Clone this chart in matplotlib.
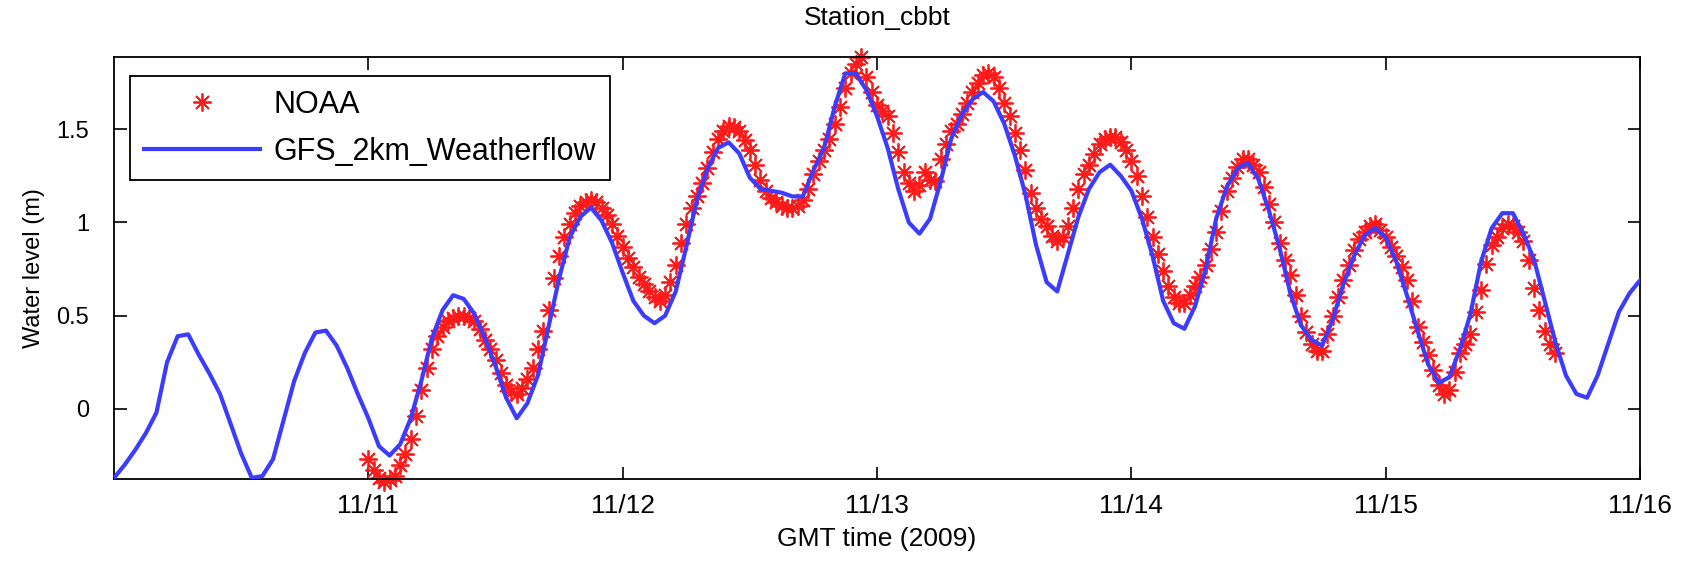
import numpy as np
import matplotlib
matplotlib.use("Agg")
import matplotlib.pyplot as plt

# model (GFS_2km_Weatherflow), hourly from 2009-11-10 00:00
model_start = np.datetime64("2009-11-10T00:00")
model_level = [
    -0.37, -0.30, -0.22, -0.13, -0.02, 0.25, 0.39, 0.40, 0.29, 0.19, 0.08, -0.08,
    -0.24, -0.37, -0.36, -0.27, -0.06, 0.15, 0.30, 0.41, 0.42, 0.34, 0.22, 0.08,
    -0.05, -0.20, -0.25, -0.19, -0.05, 0.15, 0.38, 0.53, 0.61, 0.59, 0.51, 0.38,
    0.23, 0.06, -0.05, 0.03, 0.18, 0.44, 0.70, 0.92, 1.03, 1.08, 1.01, 0.89,
    0.73, 0.58, 0.50, 0.46, 0.50, 0.63, 0.87, 1.12, 1.29, 1.40, 1.43, 1.37,
    1.24, 1.18, 1.17, 1.16, 1.14, 1.14, 1.28, 1.40, 1.62, 1.80, 1.80, 1.71,
    1.57, 1.40, 1.18, 1.00, 0.94, 1.02, 1.22, 1.45, 1.58, 1.66, 1.70, 1.65,
    1.53, 1.36, 1.15, 0.88, 0.68, 0.63, 0.83, 1.03, 1.18, 1.27, 1.31, 1.25,
    1.17, 1.02, 0.82, 0.58, 0.46, 0.43, 0.55, 0.75, 1.02, 1.19, 1.29, 1.32,
    1.23, 1.06, 0.86, 0.62, 0.45, 0.37, 0.34, 0.48, 0.67, 0.82, 0.93, 0.97,
    0.92, 0.79, 0.61, 0.42, 0.24, 0.14, 0.17, 0.32, 0.51, 0.79, 0.97, 1.05,
    1.05, 0.94, 0.80, 0.58, 0.36, 0.18, 0.08, 0.06, 0.18, 0.35, 0.52, 0.62,
    0.69,
]

# NOAA observations, every 30 min from 2009-11-11 00:00
noaa_start = np.datetime64("2009-11-11T00:00")
noaa_level = [
    -0.27, -0.33, -0.37, -0.39, -0.38, -0.36, -0.30, -0.24, -0.16, -0.04,
    0.10, 0.22, 0.32, 0.39, 0.44, 0.47, 0.49, 0.50, 0.50, 0.49,
    0.47, 0.43, 0.37, 0.32, 0.26, 0.19, 0.13, 0.09, 0.08, 0.11,
    0.16, 0.22, 0.32, 0.42, 0.53, 0.70, 0.82, 0.92, 0.99, 1.05,
    1.09, 1.11, 1.12, 1.11, 1.08, 1.04, 0.99, 0.93, 0.87, 0.81,
    0.76, 0.71, 0.67, 0.63, 0.60, 0.58, 0.61, 0.68, 0.77, 0.89,
    0.99, 1.08, 1.14, 1.21, 1.29, 1.38, 1.45, 1.49, 1.52, 1.51,
    1.49, 1.44, 1.39, 1.31, 1.23, 1.17, 1.13, 1.11, 1.09, 1.08,
    1.08, 1.09, 1.12, 1.18, 1.26, 1.33, 1.39, 1.45, 1.53, 1.62,
    1.72, 1.80, 1.85, 1.89, 1.78, 1.70, 1.63, 1.60, 1.57, 1.48,
    1.38, 1.27, 1.21, 1.17, 1.20, 1.27, 1.23, 1.22, 1.34, 1.42,
    1.49, 1.53, 1.58, 1.64, 1.70, 1.75, 1.79, 1.80, 1.78, 1.72,
    1.64, 1.57, 1.48, 1.39, 1.28, 1.16, 1.08, 1.02, 0.98, 0.93,
    0.90, 0.92, 0.98, 1.08, 1.18, 1.26, 1.31, 1.37, 1.42, 1.45,
    1.46, 1.46, 1.43, 1.39, 1.33, 1.25, 1.14, 1.03, 0.92, 0.83,
    0.74, 0.66, 0.60, 0.57, 0.57, 0.61, 0.66, 0.71, 0.77, 0.86,
    0.95, 1.06, 1.17, 1.24, 1.30, 1.34, 1.34, 1.31, 1.27, 1.19,
    1.10, 1.00, 0.89, 0.80, 0.72, 0.61, 0.50, 0.41, 0.35, 0.31,
    0.31, 0.40, 0.50, 0.60, 0.69, 0.77, 0.85, 0.91, 0.95, 0.98,
    0.99, 0.96, 0.92, 0.87, 0.82, 0.76, 0.69, 0.58, 0.44, 0.36,
    0.29, 0.21, 0.13, 0.08, 0.10, 0.20, 0.30, 0.35, 0.40, 0.52,
    0.64, 0.78, 0.88, 0.92, 0.97, 0.99, 0.98, 0.95, 0.90, 0.80,
    0.65, 0.53, 0.42, 0.35, 0.30,
]

tick_days = ["2009-11-11", "2009-11-12", "2009-11-13", "2009-11-14", "2009-11-15", "2009-11-16"]
tick_labels = ["11/11", "11/12", "11/13", "11/14", "11/15", "11/16"]
y_ticks = [0, 0.5, 1, 1.5]
y_labels = ["0", "0.5", "1", "1.5"]


def as_dt(t):
    return t.astype("datetime64[s]").astype(object)


model_time = model_start + np.arange(len(model_level)) * np.timedelta64(60, "m")
noaa_time = noaa_start + np.arange(len(noaa_level)) * np.timedelta64(30, "m")

plt.rcParams["font.family"] = ["Liberation Sans", "DejaVu Sans"]
plt.rcParams["font.size"] = 17

fig = plt.figure(figsize=(16.92, 5.64), dpi=100)
ax = fig.add_axes([0.0674, 0.1507, 0.9019, 0.7483])

ax.plot(as_dt(noaa_time), noaa_level,
        linestyle="none", marker=(8, 2, 0), markersize=13, markeredgewidth=1.3,
        color="#ff1a1a", clip_on=False, label="NOAA", zorder=2)
ax.plot(as_dt(model_time), model_level,
        color="#3c3cff", linewidth=3, label="GFS_2km_Weatherflow", zorder=3)

ax.set_xlim(as_dt(np.datetime64("2009-11-10T00:00")), as_dt(np.datetime64("2009-11-16T00:00")))
ax.set_ylim(-0.376, 1.888)
ax.set_xticks([as_dt(np.datetime64(d)) for d in tick_days])
ax.set_xticklabels(tick_labels, fontsize=19)
ax.set_yticks(y_ticks)
ax.set_yticklabels(y_labels, fontsize=17)

ax.tick_params(direction="in", length=9, width=1.2, top=True, right=True)
ax.tick_params(axis="x", pad=11)
ax.tick_params(axis="y", pad=18)
for s in ax.spines.values():
    s.set_linewidth(1.3)

ax.set_title("Station_cbbt", fontsize=19, pad=23)
ax.set_xlabel("GMT time (2009)", fontsize=19, labelpad=6)
ax.set_ylabel("Water level (m)", fontsize=17, labelpad=8)

leg = ax.legend(loc="upper left", bbox_to_anchor=(0.0105, 0.955), borderaxespad=0,
                fancybox=False, framealpha=1, edgecolor="black", fontsize=22,
                handlelength=3.8, handletextpad=0.45, borderpad=0.45, labelspacing=0.55)
leg.get_frame().set_linewidth(1.3)

fig.savefig("out.png", dpi=100)
